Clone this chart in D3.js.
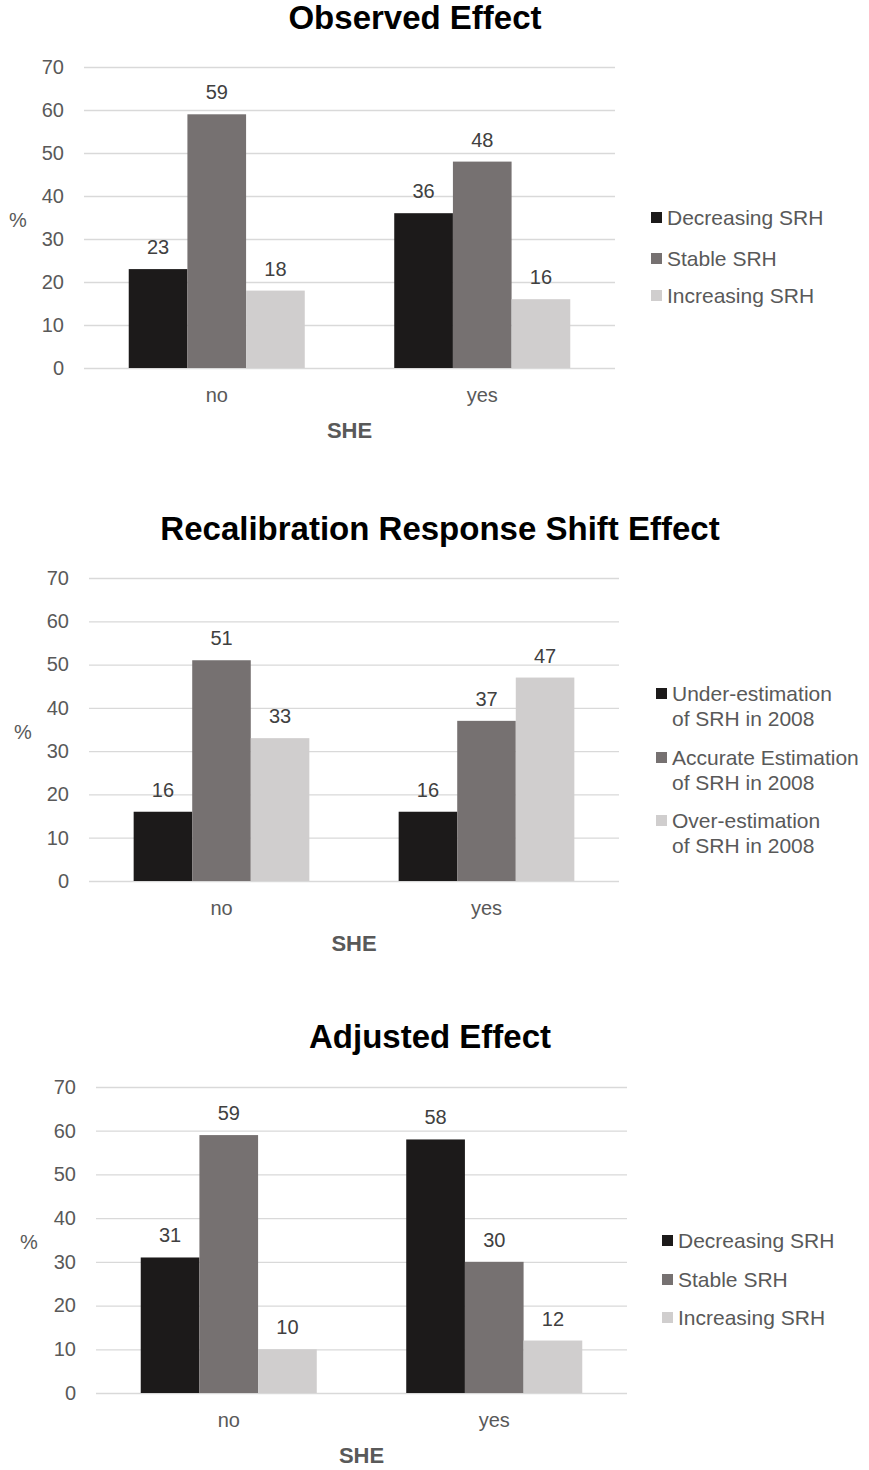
<!DOCTYPE html>
<html>
<head>
<meta charset="utf-8">
<script src="https://cdn.jsdelivr.net/npm/d3@7"></script>
<style>
  html, body { margin: 0; padding: 0; background: #fff; }
  svg { display: block; font-family: "Liberation Sans", Arial, sans-serif; }
</style>
</head>
<body>
<svg id="fig" width="869" height="1470"></svg>
<script>
// ---- data ----
const categories = ["no", "yes"];
const yTicks = [0, 10, 20, 30, 40, 50, 60, 70];
const axisTitleX = "SHE";
const axisTitleY = "%";

const trendSeries = ["Decreasing SRH", "Stable SRH", "Increasing SRH"];
const shiftSeries = [
  ["Under-estimation", "of SRH in 2008"],
  ["Accurate Estimation", "of SRH in 2008"],
  ["Over-estimation", "of SRH in 2008"]
];

// values per series, in category order (no, yes)
const observedDecreasing = [23, 36];
const observedStable = [59, 48];
const observedIncreasing = [18, 16];

const shiftUnder = [16, 16];
const shiftAccurate = [51, 37];
const shiftOver = [33, 47];

const adjustedDecreasing = [31, 58];
const adjustedStable = [59, 30];
const adjustedIncreasing = [10, 12];

const seriesColors = ["#1c1a1a", "#767171", "#d0cece"];

// ---- drawing ----
const svg = d3.select("#fig");
const font = '"Liberation Sans", Arial, sans-serif';

function drawChart(cfg) {
  const g = svg.append("g");
  const series = cfg.values; // array of arrays [series][category]

  const y = d3.scaleLinear().domain([0, 70]).range([cfg.y0, cfg.yTop]);
  const x0 = d3.scaleBand().domain(categories).range([cfg.left, cfg.right]).padding(0);
  const bw = x0.bandwidth();
  const groupFrac = 0.663;
  const x1 = d3.scaleBand()
    .domain(d3.range(series.length))
    .range([bw * (1 - groupFrac) / 2, bw * (1 + groupFrac) / 2])
    .padding(0);

  // title
  g.append("text")
    .attr("x", cfg.titleX).attr("y", cfg.titleY)
    .attr("text-anchor", "middle")
    .attr("font-size", 33).attr("font-weight", "bold")
    .attr("fill", "#000")
    .text(cfg.title);

  // y axis with gridlines
  const yAxis = g.append("g")
    .attr("transform", `translate(${cfg.left},0)`)
    .call(d3.axisLeft(y).tickValues(yTicks).tickSize(-(cfg.right - cfg.left)).tickPadding(20));
  yAxis.select(".domain").remove();
  yAxis.selectAll(".tick line").attr("stroke", "#d9d9d9").attr("stroke-width", 1.3);
  yAxis.selectAll(".tick text")
    .attr("fill", "#595959").attr("font-size", 20).attr("font-family", font);

  // bars
  const groups = g.append("g").selectAll("g")
    .data(categories)
    .join("g")
    .attr("transform", d => `translate(${x0(d)},0)`);

  groups.selectAll("rect")
    .data((c, ci) => series.map((s, si) => ({ si, v: s[ci] })))
    .join("rect")
    .attr("x", d => x1(d.si))
    .attr("width", x1.bandwidth())
    .attr("y", d => y(d.v))
    .attr("height", d => y(0) - y(d.v))
    .attr("fill", d => seriesColors[d.si]);

  // value labels
  groups.selectAll("text.val")
    .data((c, ci) => series.map((s, si) => ({ si, v: s[ci] })))
    .join("text")
    .attr("class", "val")
    .attr("x", d => x1(d.si) + x1.bandwidth() / 2)
    .attr("y", d => y(d.v) - 15)
    .attr("text-anchor", "middle")
    .attr("font-size", 20)
    .attr("fill", "#404040")
    .text(d => d.v);

  // category axis
  const xAxis = g.append("g")
    .attr("transform", `translate(0,${cfg.y0})`)
    .call(d3.axisBottom(x0).tickSize(0).tickPadding(20));
  xAxis.select(".domain").remove();
  xAxis.selectAll(".tick text")
    .attr("fill", "#595959").attr("font-size", 20).attr("font-family", font);

  // axis titles
  g.append("text")
    .attr("x", (cfg.left + cfg.right) / 2).attr("y", cfg.y0 + 70)
    .attr("text-anchor", "middle")
    .attr("font-size", 22).attr("font-weight", "bold")
    .attr("fill", "#595959")
    .text(axisTitleX);

  g.append("text")
    .attr("x", cfg.pctX).attr("y", (cfg.y0 + cfg.yTop) / 2 + 9)
    .attr("text-anchor", "middle")
    .attr("font-size", 20)
    .attr("fill", "#595959")
    .text(axisTitleY);

  // legend
  const leg = g.append("g");
  cfg.names.forEach((name, i) => {
    const lines = Array.isArray(name) ? name : [name];
    const cy = cfg.legendY[i];
    leg.append("rect")
      .attr("x", cfg.legendX).attr("y", cy - 5)
      .attr("width", 11).attr("height", 11)
      .attr("fill", seriesColors[i]);
    const t = leg.append("text")
      .attr("x", cfg.legendX + 16).attr("y", cy + 7.5)
      .attr("font-size", 21).attr("fill", "#595959");
    lines.forEach((ln, li) => {
      t.append("tspan")
        .attr("x", cfg.legendX + 16)
        .attr("dy", li === 0 ? 0 : 25)
        .text(ln);
    });
  });
}

drawChart({
  title: "Observed Effect",
  values: [observedDecreasing, observedStable, observedIncreasing],
  names: trendSeries,
  titleX: 415, titleY: 29,
  left: 84, right: 615, y0: 368, yTop: 67,
  pctX: 18,
  legendX: 651, legendY: [217, 258, 295]
});

drawChart({
  title: "Recalibration Response Shift Effect",
  values: [shiftUnder, shiftAccurate, shiftOver],
  names: shiftSeries,
  titleX: 440, titleY: 540,
  left: 89, right: 619, y0: 881, yTop: 578,
  pctX: 23,
  legendX: 656, legendY: [693, 757, 820]
});

drawChart({
  title: "Adjusted Effect",
  values: [adjustedDecreasing, adjustedStable, adjustedIncreasing],
  names: trendSeries,
  titleX: 430, titleY: 1048,
  left: 96, right: 627, y0: 1393, yTop: 1087,
  pctX: 29,
  legendX: 662, legendY: [1240, 1279, 1317]
});
</script>
</body>
</html>
